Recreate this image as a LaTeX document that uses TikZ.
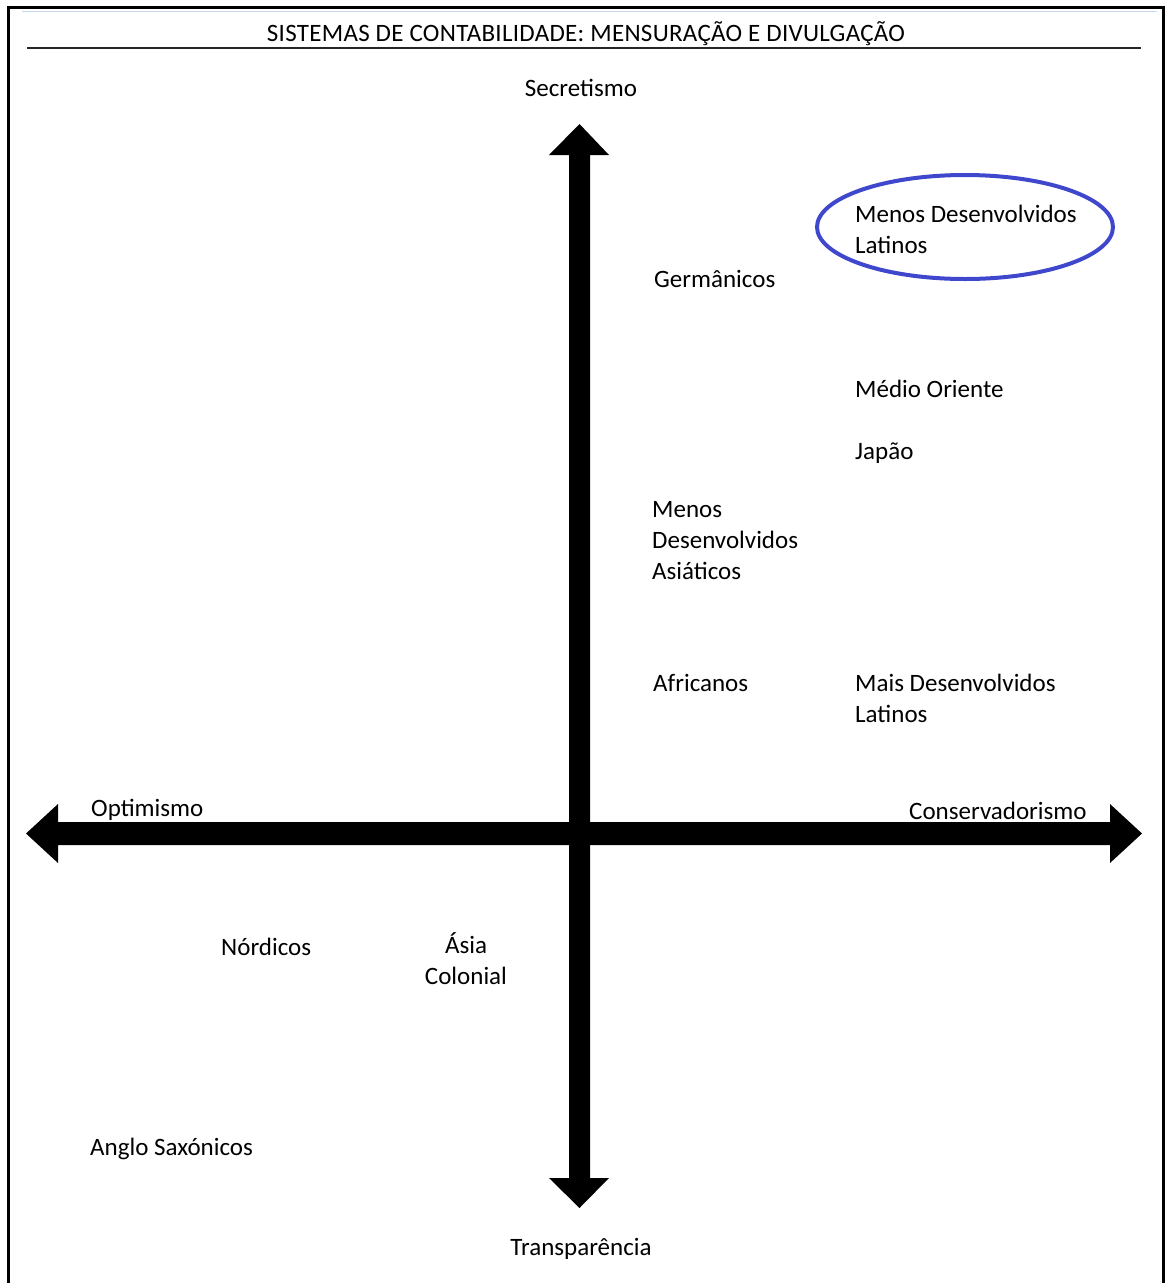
\documentclass[tikz,border=0pt]{standalone}
\usepackage{fontspec}
\setmainfont{Carlito}
\definecolor{ovalblue}{HTML}{3F48CC}
\definecolor{paleblue}{HTML}{C6D9F0}
\begin{document}
\begin{tikzpicture}[x=1pt,y=-1pt,
  lbl/.style={inner sep=0pt,font=\fontsize{25}{31}\selectfont,align=left},
  axisfill/.style={fill=black,draw=none}]
\useasboundingbox (0,0) rectangle (1169,1283);
% frame
\draw[line width=3pt] (8,1290) -- (8,7) -- (1163,7) -- (1163,1290);
\draw[paleblue,line width=1pt] (22,11) -- (1157,11);
% title
\node[lbl,anchor=base] (title) at (586,41) {\addfontfeature{LetterSpace=1.2}SISTEMAS DE CONTABILIDADE: MENSURAÇÃO E DIVULGAÇÃO};
\draw[line width=2.5pt,black!85] (27,48) -- (1141,48);
% axes
\coordinate (N) at (579.5,124);
\coordinate (S) at (579.5,1208);
\coordinate (W) at (26,833.5);
\coordinate (E) at (1142,833.5);
\fill[axisfill] (N) -- (609,155) -- (590,155) -- (590,1178) -- (609,1178) -- (S)
  -- (549,1178) -- (569,1178) -- (569,155) -- (549,155) -- cycle;
\fill[axisfill] (W) -- (58,804) -- (58,822) -- (1110,822) -- (1110,804) -- (E)
  -- (1110,863) -- (1110,845) -- (58,845) -- (58,863) -- cycle;
% axis labels
\node[lbl,anchor=base] (sec) at (581,96) {Secretismo};
\node[lbl,anchor=base] (tra) at (581,1255) {Transparência};
\node[lbl,anchor=base west] (opt) at (91,816) {Optimismo};
\node[lbl,anchor=base west] (con) at (909,819) {Conservadorismo};
% groups
\node[lbl,anchor=north west] (mdl) at (855,205) {Menos Desenvolvidos\\Latinos};
\draw[ovalblue,line width=4pt] (965,227) ellipse [x radius=148, y radius=52];
\node[lbl,anchor=base west] (ger) at (654,287) {Germânicos};
\node[lbl,anchor=base west] (med) at (855,397) {Médio Oriente};
\node[lbl,anchor=base west] (jap) at (855,459) {Japão};
\node[lbl,anchor=north west] (mda) at (652,501) {Menos\\Desenvolvidos\\Asiáticos};
\node[lbl,anchor=base west] (afr) at (653,691) {Africanos};
\node[lbl,anchor=north west] (mal) at (855,674) {Mais Desenvolvidos\\Latinos};
\node[lbl,anchor=base west] (nor) at (221,955) {Nórdicos};
\node[lbl,anchor=north,align=center] (asi) at (466,932) {Ásia\\Colonial};
\node[lbl,anchor=base west] (ang) at (90,1155) {Anglo Saxónicos};
\end{tikzpicture}
\end{document}
